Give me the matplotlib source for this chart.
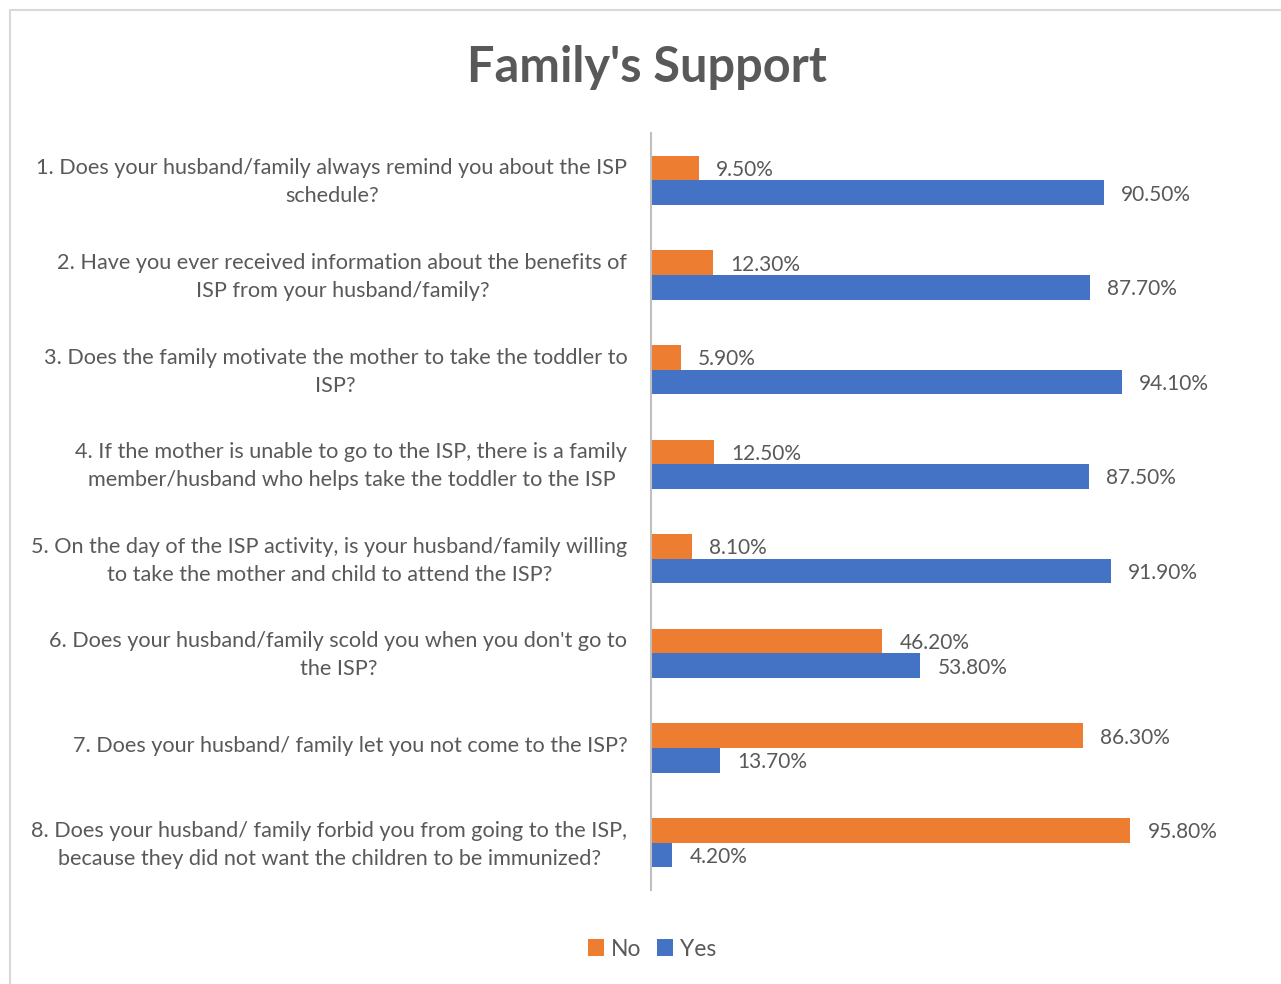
import matplotlib.pyplot as plt
import matplotlib.transforms as mtransforms
import numpy as np
from matplotlib.patches import Rectangle

plt.rcParams['font.family'] = ['Lato', 'DejaVu Sans']

questions = [
    "1. Does your husband/family always remind you about the ISP\nschedule?",
    "2. Have you ever received information about the benefits of\nISP from your husband/family?",
    "3. Does the family motivate the mother to take the toddler to\nISP?",
    "4. If the mother is unable to go to the ISP, there is a family\nmember/husband who helps take the toddler to the ISP",
    "5. On the day of the ISP activity, is your husband/family willing\nto take the mother and child to attend the ISP?",
    "6. Does your husband/family scold you when you don't go to\nthe ISP?",
    "7. Does your husband/ family let you not come to the ISP?",
    "8. Does your husband/ family forbid you from going to the ISP,\nbecause they did not want the children to be immunized?",
]
no_vals = [9.5, 12.3, 5.9, 12.5, 8.1, 46.2, 86.3, 95.8]
yes_vals = [90.5, 87.7, 94.1, 87.5, 91.9, 53.8, 13.7, 4.2]

ORANGE = '#ED7D31'
BLUE = '#4472C4'
TXT = '#595959'

fig = plt.figure(figsize=(12.81, 9.84), dpi=100)
# chart border (light gray, partially cut off like the source)
fig.patches.append(Rectangle((10 / 1281, -0.1), 1.2, 1 - 10 / 984 + 0.1,
                             transform=fig.transFigure, fill=False,
                             edgecolor='#d9d9d9', linewidth=1.5))

ax = fig.add_axes([651 / 1281, 1 - 890 / 984, 600 / 1281, (890 - 133) / 984])

y = np.arange(len(questions))
h = 0.26
ax.barh(y - h / 2, no_vals, height=h, color=ORANGE, label='No')
ax.barh(y + h / 2, yes_vals, height=h, color=BLUE, label='Yes')

for i in range(len(questions)):
    ax.text(no_vals[i] + 3.5, y[i] - h / 2 + 0.02, f"{no_vals[i]:.2f}%",
            va='center', ha='left', fontsize=15, color=TXT)
    ax.text(yes_vals[i] + 3.5, y[i] + h / 2 + 0.02, f"{yes_vals[i]:.2f}%",
            va='center', ha='left', fontsize=15, color=TXT)

ax.set_xlim(0, 120)
ax.set_ylim(len(questions) - 0.5, -0.5)
ax.set_yticks(y)
ax.set_yticklabels(questions, fontsize=15.6, color=TXT, multialignment='center',
                   linespacing=1.5)
ax.tick_params(axis='y', length=0, pad=17)
# nudge the question labels up a few pixels
shift = mtransforms.ScaledTranslation(0, 4 / 100, fig.dpi_scale_trans)
for lbl in ax.get_yticklabels():
    lbl.set_transform(lbl.get_transform() + shift)
ax.set_xticks([])
for s in ['top', 'right', 'bottom']:
    ax.spines[s].set_visible(False)
ax.spines['left'].set_color('#bfbfbf')
ax.spines['left'].set_linewidth(1.5)

fig.text(647 / 1281, 1 - 67 / 984, "Family's Support", ha='center', va='center',
         fontsize=35, fontweight='bold', color=TXT)

fig.legend(loc='center', bbox_to_anchor=(652 / 1281, 1 - 949 / 984), ncol=2,
           frameon=False, fontsize=16.5, labelcolor=TXT, handlelength=0.7,
           handleheight=0.7, handletextpad=0.3, columnspacing=0.7)

fig.savefig('out.png', dpi=100)
